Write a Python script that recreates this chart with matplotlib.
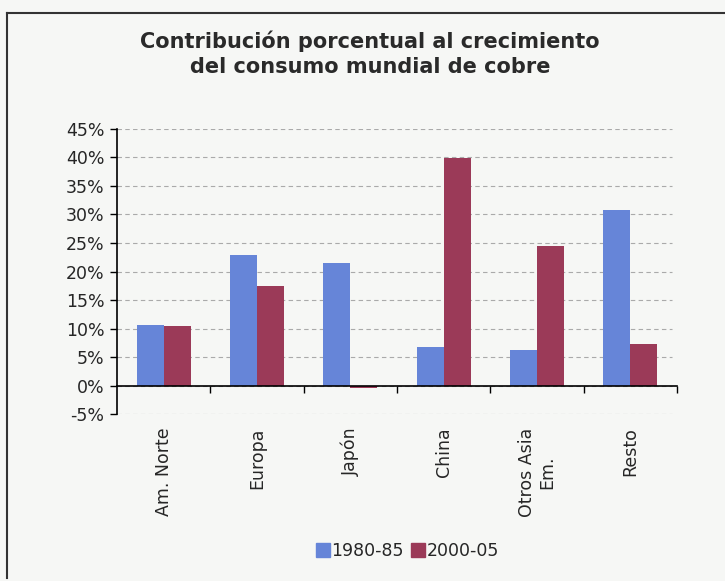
import numpy as np
import matplotlib.pyplot as plt
from matplotlib.lines import Line2D
from matplotlib.ticker import FuncFormatter

# data (% contribution)
regiones = ["Am. Norte", "Europa", "Japón", "China", "Otros Asia\nEm.", "Resto"]
serie_1980 = [10.7, 22.9, 21.5, 6.7, 6.3, 30.8]
serie_2000 = [10.4, 17.5, -0.5, 39.9, 24.5, 7.3]
etiquetas_serie = ["1980-85", "2000-05"]
yticks = [-5, 0, 5, 10, 15, 20, 25, 30, 35, 40, 45]

azul = "#6685d8"
rojo = "#9b3a58"
fondo = "#f6f7f5"
texto = "#262626"

fig = plt.figure(figsize=(7.25, 5.81), dpi=100, facecolor=fondo)
ax = fig.add_axes([0.1614, 0.2874, 0.7724, 0.4906])
ax.set_facecolor(fondo)

x = np.arange(len(regiones))
w = 0.29
ax.bar(x - w / 2, serie_1980, w, color=azul, label=etiquetas_serie[0], zorder=3)
ax.bar(x + w / 2, serie_2000, w, color=rojo, label=etiquetas_serie[1], zorder=3)

ax.set_xlim(-0.5, len(regiones) - 0.5)
ax.set_ylim(-5, 45)
ax.set_yticks(yticks)
ax.yaxis.set_major_formatter(FuncFormatter(lambda v, p: f"{v:.0f}%"))
ax.tick_params(axis="y", direction="out", length=5, width=1, labelsize=12.5, pad=4,
               labelcolor=texto)

# dashed grid
for v in yticks:
    ax.plot([-0.5, 5.45], [v, v], ls=(0, (4, 3)), color="#aaaaaa", lw=0.8, zorder=1)

for s in ["top", "right"]:
    ax.spines[s].set_visible(False)
ax.spines["left"].set_linewidth(1.2)
ax.spines["bottom"].set_position(("data", 0))
ax.spines["bottom"].set_linewidth(1.2)
ax.spines["bottom"].set_zorder(4)

ax.set_xticks(x)
ax.set_xticklabels([])
ax.tick_params(axis="x", which="major", length=0)
ax.set_xticks(np.arange(len(regiones)) + 0.5, minor=True)
ax.tick_params(axis="x", which="minor", direction="out", length=5, width=1)

for i, r in enumerate(regiones):
    ax.text(i, -0.047, r, transform=ax.get_xaxis_transform(), rotation=90,
            ha="center", va="top", multialignment="center", fontsize=12.5, color=texto)

fig.text(0.51, 0.908, "Contribución porcentual al crecimiento\ndel consumo mundial de cobre",
         ha="center", va="center", fontsize=15, fontweight="bold", color="#2a2a2a",
         linespacing=1.3)

handles = [Line2D([], [], marker="s", ls="", color=azul, markersize=10),
           Line2D([], [], marker="s", ls="", color=rojo, markersize=10)]
fig.legend(handles, etiquetas_serie, loc="center", bbox_to_anchor=(0.562, 0.052),
           ncol=2, frameon=False, fontsize=12.5, handletextpad=0.1, columnspacing=0.4,
           handlelength=0.8, labelcolor=texto)

# chart area border (cropped on the right)
fig.add_artist(Line2D([7 / 725, 7 / 725], [1 - 13 / 581, 1 - 578 / 581], color="#333333", lw=1.5))
fig.add_artist(Line2D([7 / 725, 1.0], [1 - 13 / 581, 1 - 13 / 581], color="#333333", lw=1.5))

fig.savefig("out.png", dpi=100, facecolor=fondo)
